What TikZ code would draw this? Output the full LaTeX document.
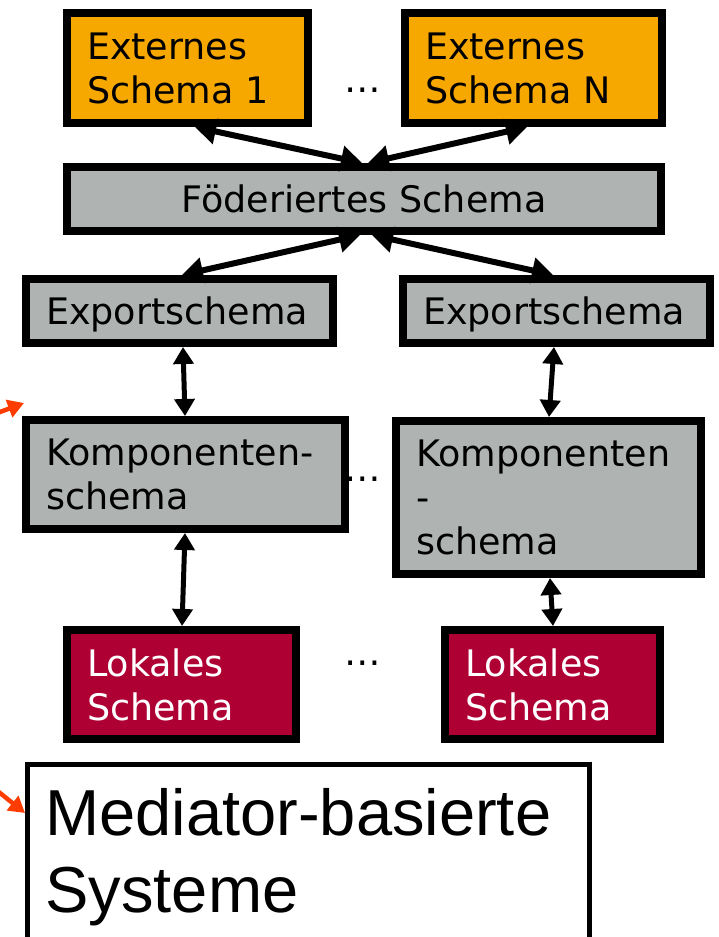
\documentclass[tikz,border=0pt]{standalone}
\usepackage{fontspec}
\setmainfont{DejaVu Sans}
\newfontfamily\mediatorfont{Liberation Sans}
\usetikzlibrary{arrows.meta}

\definecolor{extorange}{HTML}{F7A800}
\definecolor{schemagray}{HTML}{AFB4B3}
\definecolor{localred}{HTML}{AF0034}
\definecolor{pointerred}{HTML}{FF3C00}

\begin{document}
\begin{tikzpicture}[x=1pt,y=-1pt,
  schemabox/.style={draw=black, line width=8pt, rectangle, anchor=center,
    inner xsep=20pt, inner ysep=0pt, align=left,
    font=\fontsize{36.5}{44}\selectfont},
  oneline/.style={text height=26.6pt, text depth=0pt},
  extbox/.style={schemabox, fill=extorange, text=black},
  graybox/.style={schemabox, fill=schemagray, text=black},
  localbox/.style={schemabox, fill=localred, text=white},
  ellipsis/.style={inner sep=0pt, anchor=base, font=\fontsize{36.5}{44}\selectfont},
  linkwide/.style={line width=6pt,
    {Triangle[length=21pt,width=25pt]}-{Triangle[length=21pt,width=25pt]}},
  linknarrow/.style={line width=5pt,
    {Triangle[length=17pt,width=20pt]}-{Triangle[length=17pt,width=20pt]}},
  pointer/.style={draw=pointerred, line width=4.5pt, -{Triangle[length=16pt,width=18pt]}}
]
\useasboundingbox (0,0) rectangle (719,937);
\clip (0,0) rectangle (719,937);
\fill[white] (0,0) rectangle (719,937);

% external schemas
\node[extbox, text width=201pt, minimum height=110pt] (ext1) at (187.5,68)
  {Externes\\Schema 1};
\node[extbox, text width=217pt, minimum height=110pt] (extn) at (533.5,68)
  {Externes\\Schema N};
\node[ellipsis] (dotsext) at (363,92.5) {…};

% federated schema
\node[graybox, oneline, align=center, text width=554pt, minimum height=64pt] (fed)
  at (364,199) {Föderiertes Schema};

% export schemas
\node[graybox, oneline, text width=267pt, minimum height=64pt] (expl) at (179.5,311)
  {Exportschema};
\node[graybox, oneline, text width=267pt, minimum height=64pt] (expr) at (556.5,311)
  {Exportschema};

% component schemas
\node[graybox, text width=279pt, minimum height=109pt] (kompl) at (185.5,474.5)
  {Komponenten-\\schema};
\node[graybox, text width=265pt, minimum height=153pt] (kompr) at (548.5,497.5)
  {Komponenten\\-\\schema};
\node[ellipsis] (dotskomp) at (363,481.5) {…};

% local schemas
\node[localbox, text width=189pt, minimum height=109pt] (lokl) at (181.5,684.5)
  {Lokales\\Schema};
\node[localbox, text width=175pt, minimum height=109pt] (lokr) at (552.5,684.5)
  {Lokales\\Schema};
\node[ellipsis] (dotslok) at (363,665.5) {…};

% mediator caption box
\node[draw=black, line width=5pt, fill=white, rectangle, anchor=north west,
  minimum width=562pt, minimum height=186pt, text width=526pt,
  inner xsep=18pt, inner ysep=0pt, align=left,
  font=\mediatorfont\fontsize{65}{77}\selectfont] (med) at (25,762)
  {Mediator-basierte\\Systeme};

% connectors between the layers
\draw[linkwide] (195,0 |- ext1.south) -- (362,0 |- fed.north);
\draw[linkwide] (527,0 |- extn.south) -- (368,0 |- fed.north);
\draw[linkwide] (360,0 |- fed.south) -- (182,0 |- expl.north);
\draw[linkwide] (372,0 |- fed.south) -- (553,0 |- expr.north);
\draw[linknarrow] (183,0 |- expl.south) -- (185,0 |- kompl.north);
\draw[linknarrow] (554,0 |- expr.south) -- (549,0 |- kompr.north);
\draw[linknarrow] (185,0 |- kompl.south) -- (182,0 |- lokl.north);
\draw[linknarrow] (550,0 |- kompr.south) -- (553,0 |- lokr.north);

% pointers entering from the left margin
\coordinate (ptrAfrom) at (-30,423.25);
\coordinate (ptrAto) at (24,403);
\coordinate (ptrBfrom) at (-25,773);
\coordinate (ptrBto) at (25,813);
\draw[pointer] (ptrAfrom) -- (ptrAto);
\draw[pointer] (ptrBfrom) -- (ptrBto);
\end{tikzpicture}
\end{document}
